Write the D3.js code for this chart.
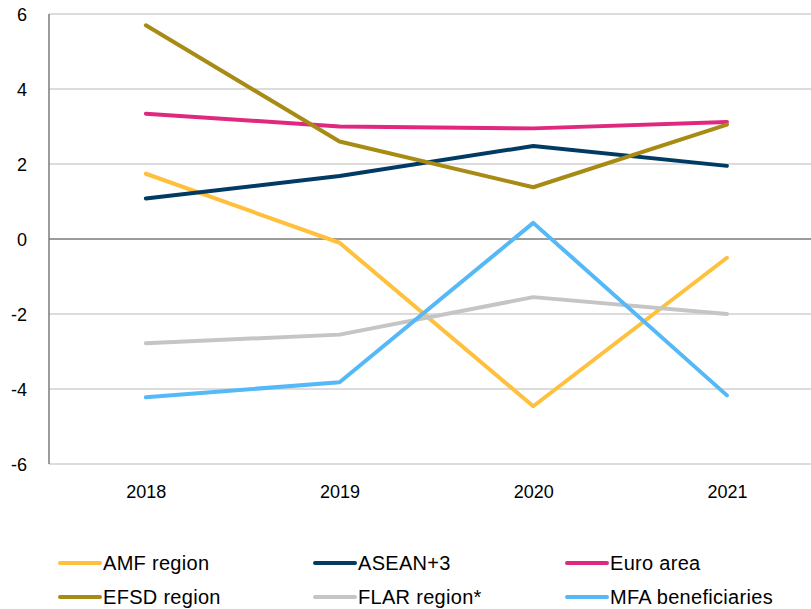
<!DOCTYPE html>
<html lang="en">
<meta charset="utf-8">
<head>
	<title>Growth by region</title>
</head>
<style type="text/css">
	body { margin: 0; background: white; }
	.tick text {
		font-family: 'Liberation Sans', sans-serif;
		font-size: 18px;
		fill: #000;
	}
	.legendText {
		font-family: 'Liberation Sans', sans-serif;
		font-size: 20px;
		letter-spacing: 0.3px;
		fill: #000;
	}
	.grid { stroke: #d0d0d0; stroke-width: 1.5; }
	.zero { stroke: #7a7a7a; stroke-width: 1.5; }
	.line { fill: none; stroke-width: 4; stroke-linejoin: round; stroke-linecap: round; }
</style>
<script src="https://d3js.org/d3.v7.min.js"></script>
<body>
<script type="text/javascript">

	var years = ["2018", "2019", "2020", "2021"];
	var seriesNames = ["AMF region", "ASEAN+3", "Euro area", "EFSD region", "FLAR region*", "MFA beneficiaries"];
	var amf   = [1.74, -0.1, -4.46, -0.5];
	var asean = [1.08, 1.68, 2.48, 1.95];
	var euro  = [3.34, 3.0, 2.95, 3.12];
	var efsd  = [5.7, 2.6, 1.38, 3.05];
	var flar  = [-2.78, -2.55, -1.55, -2.0];
	var mfa   = [-4.22, -3.82, 0.43, -4.17];
	var yTicks = [-6, -4, -2, 0, 2, 4, 6];
	var colours = ["#FFC03D", "#003B64", "#E0287E", "#A88B14", "#C5C5C5", "#55B8F7"];

	var allValues = [amf, asean, euro, efsd, flar, mfa];

	var width = 811, height = 609,
		plotLeft = 49, plotTop = 14, plotBottom = 464,
		bandW = 193.7;

	var svg = d3.select("body")
				.append("svg")
				.attr("width", width)
				.attr("height", height);

	var x = d3.scalePoint()
			  .domain(years)
			  .range([plotLeft + bandW / 2, plotLeft + bandW * 3.5]);

	var y = d3.scaleLinear()
			  .domain([-6, 6])
			  .range([plotBottom, plotTop]);

	// horizontal gridlines
	svg.selectAll(".grid")
	   .data(yTicks.filter(function(d) { return d != 0; }))
	   .enter()
	   .append("line")
	   .attr("class", "grid")
	   .attr("x1", plotLeft)
	   .attr("x2", width)
	   .attr("y1", function(d) { return y(d); })
	   .attr("y2", function(d) { return y(d); });

	// y axis labels (plain hyphen minus, like the original)
	var yAxis = svg.append("g")
				   .attr("transform", "translate(" + plotLeft + ",0)")
				   .call(d3.axisLeft(y)
				   		.tickValues(yTicks)
				   		.tickFormat(function(d) { return String(d); })
				   		.tickSize(0)
				   		.tickPadding(22));
	yAxis.select(".domain").remove();
	yAxis.selectAll("text").attr("dy", "0.35em");

	// x axis labels
	var xAxis = svg.append("g")
				   .attr("transform", "translate(0," + plotBottom + ")")
				   .call(d3.axisBottom(x).tickSize(0).tickPadding(21));
	xAxis.select(".domain").remove();

	// left axis line and zero line
	svg.append("line")
	   .attr("class", "zero")
	   .attr("x1", plotLeft).attr("x2", plotLeft)
	   .attr("y1", y(6)).attr("y2", y(-6));

	svg.append("line")
	   .attr("class", "zero")
	   .attr("x1", plotLeft).attr("x2", width)
	   .attr("y1", y(0)).attr("y2", y(0));

	var line = d3.line()
				 .x(function(d, i) { return x(years[i]); })
				 .y(function(d) { return y(d); });

	svg.selectAll(".line")
	   .data(allValues)
	   .enter()
	   .append("path")
	   .attr("class", "line")
	   .attr("d", line)
	   .style("stroke", function(d, i) { return colours[i]; });

	// legend, 3 columns x 2 rows
	var legendX = [60, 315, 567],
		legendY = [563, 597];

	var legend = svg.selectAll(".legendItem")
					.data(seriesNames)
					.enter()
					.append("g")
					.attr("class", "legendItem")
					.attr("transform", function(d, i) {
						return "translate(" + legendX[i % 3] + "," + legendY[Math.floor(i / 3)] + ")";
					});

	legend.append("line")
		  .attr("x1", 0).attr("x2", 40)
		  .attr("y1", 0).attr("y2", 0)
		  .attr("stroke-width", 4)
		  .attr("stroke-linecap", "round")
		  .style("stroke", function(d, i) { return colours[i]; });

	legend.append("text")
		  .attr("class", "legendText")
		  .attr("x", 43)
		  .attr("y", 0)
		  .attr("dy", "0.35em")
		  .text(function(d) { return d; });

</script>
</body>
</html>
